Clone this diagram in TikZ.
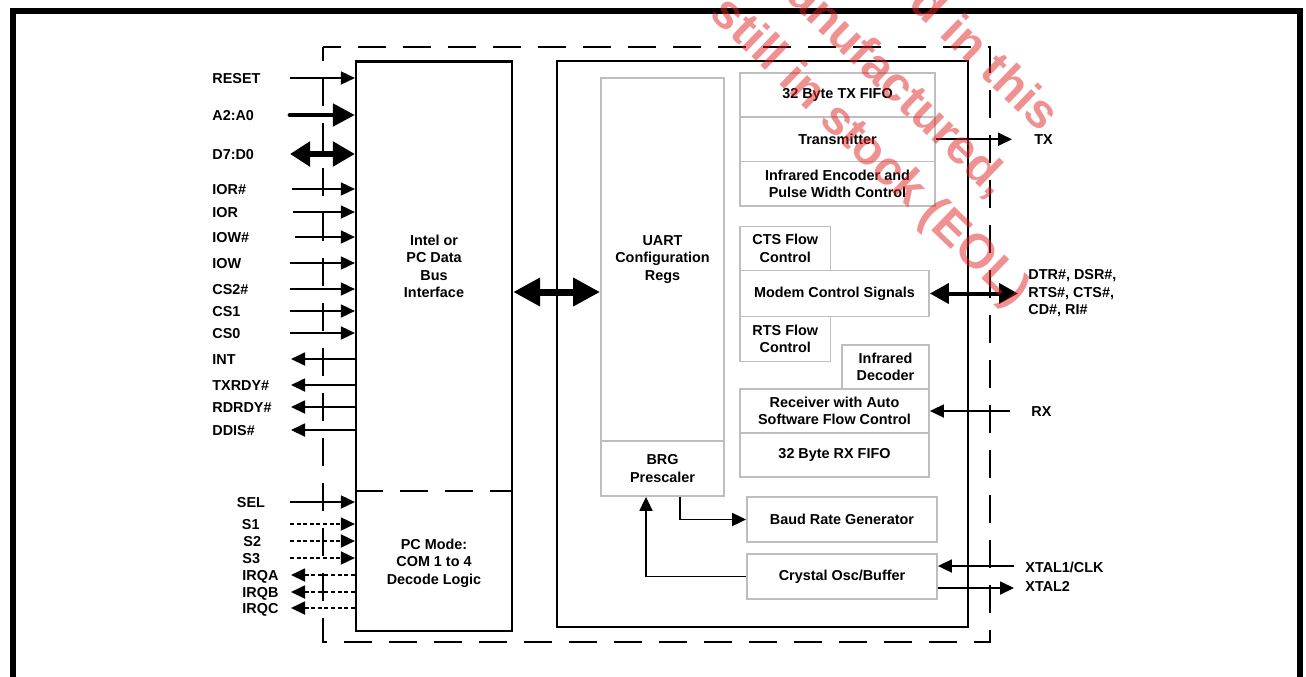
\documentclass[tikz,border=0pt]{standalone}
\usepackage{fontspec}
\newfontfamily\arialfont{Liberation Sans}
\usetikzlibrary{arrows.meta}

\definecolor{boxgray}{RGB}{190,190,190}
\definecolor{wmred}{RGB}{225,35,35}
\newcommand{\sigfont}{\arialfont\bfseries\fontsize{7.2}{8.75}\selectfont}

\begin{document}
\begin{tikzpicture}[x=0.5pt, y=-0.5pt,
  lbl/.style={font=\sigfont, inner sep=0pt, align=center},
  sig/.style={font=\sigfont, inner sep=0pt, anchor=west, text height=5.2pt, text depth=0pt},
  gbox/.style={draw=boxgray, line width=0.9pt, inner sep=0pt, align=center, font=\sigfont},
  kbox/.style={draw, line width=1.1pt, inner sep=0pt},
  chipline/.style={line width=0.75pt, dash pattern=on 14pt off 8.5pt},
  sigarr/.style={-{Triangle[length=7pt,width=6.5pt]}, line width=0.9pt},
  sigout/.style={{Triangle[length=7pt,width=6.5pt]}-, line width=0.9pt},
  dsigarr/.style={sigarr, dash pattern=on 2pt off 1.3pt},
  dsigout/.style={sigout, dash pattern=on 2pt off 1.3pt},
  busarr/.style={-{Triangle[length=11pt,width=11pt]}, line width=2.4pt, line cap=round},
  busdbl/.style={{Triangle[length=10pt,width=12pt]}-{Triangle[length=11pt,width=12pt]}, line width=2.6pt},
  bigarr/.style={{Triangle[length=13.5pt,width=13.5pt]}-{Triangle[length=13.5pt,width=13.5pt]}, line width=3.5pt},
  modarr/.style={{Triangle[length=9.5pt,width=10pt]}-{Triangle[length=9.5pt,width=10pt]}, line width=2pt},
  wm/.style={font=\arialfont\bfseries\fontsize{24}{29}\selectfont, text=wmred, opacity=0.5, rotate=-44, inner sep=0pt}]

  % parameters (pixel grid, y downwards)
  \def\sx{290}    % start of left signal arrows
  \def\lx{212}    % left signal labels
  \def\px{242}    % PC mode signal labels

  \useasboundingbox (0,0) rectangle (1306,676);

  % 1. outer frame (open at the bottom)
  \begin{scope}
    \clip (0,0) rectangle (1306,676);
    \draw[line width=3pt] (13,690) -- (13,11) -- (1300,11) -- (1300,690);
  \end{scope}

  % 2. chip boundary
  \draw[chipline, dash phase=7pt] (323,47) rectangle (990,642);

  % 3. bus interface block
  \node[kbox, minimum width=78pt, minimum height=284.75pt] (bus) at (434,346.25) {};
  \draw[chipline] (bus.west |- 0,491) -- (bus.east |- 0,491);
  \node[lbl] (busTxt) at (434,266.5) {Intel or\\PC Data\\Bus\\Interface};
  \node[lbl] (pcTxt) at (434,563) {PC Mode:\\COM 1 to 4\\Decode Logic};

  % 4. UART block
  \node[kbox, minimum width=205.5pt, minimum height=283pt] (uart) at (762.5,344) {};
  \node[gbox, minimum width=61.5pt, minimum height=181.5pt] (cfg) at (662.5,259.5) {UART\\Configuration\\Regs};
  \node[gbox, minimum width=61.5pt, minimum height=27.5pt] (brg) at (662.5,468.5) {BRG\\Prescaler};
  \node[gbox, minimum width=97.5pt, minimum height=22pt] (txfifo) at (837.5,95) {32 Byte TX FIFO};
  \node[gbox, minimum width=97.5pt, minimum height=22.25pt] (tx) at (837.5,139.25) {Transmitter};
  \node[gbox, minimum width=97.5pt, minimum height=22.25pt] (irenc) at (837.5,183.75) {Infrared Encoder and\\Pulse Width Control};
  \node[gbox, minimum width=45.25pt, minimum height=22pt] (cts) at (785.25,248.5) {CTS Flow\\Control};
  \node[gbox, minimum width=94.5pt, minimum height=23pt] (modem) at (834.5,293.5) {Modem Control Signals};
  \node[gbox, minimum width=45.25pt, minimum height=22.5pt] (rts) at (785.25,339) {RTS Flow\\Control};
  \node[gbox, minimum width=43.5pt, minimum height=22pt] (irdec) at (885.5,367) {Infrared\\Decoder};
  \node[gbox, minimum width=94.5pt, minimum height=22pt] (rcv) at (834.5,411) {Receiver with Auto\\Software Flow Control};
  \node[gbox, minimum width=94.5pt, minimum height=22pt] (rxfifo) at (834.5,455) {32 Byte RX FIFO};
  \node[gbox, minimum width=95pt, minimum height=22.5pt] (baud) at (842,519.5) {Baud Rate Generator};
  \node[gbox, minimum width=95pt, minimum height=22.5pt] (xtal) at (842,576.5) {Crystal Osc/Buffer};

  % 5. internal connections
  \draw[bigarr] (bus.east |- 0,292) -- (cfg.west |- 0,292);
  \draw[sigarr] (680,0 |- brg.south) |- (baud.west);
  \draw[sigarr] (xtal.west) -| (646,0 |- brg.south);

  % 6. host side signals
  \node[sig] (rstL) at (\lx,78) {RESET};
  \draw[sigarr] (\sx,78) coordinate (rst) -- (rst -| bus.west);
  \node[sig] (adrL) at (\lx,115) {A2:A0};
  \draw[busarr] (\sx,115) coordinate (adr) -- (adr -| bus.west);
  \node[sig] (datL) at (\lx,154) {D7:D0};
  \draw[busdbl] (\sx,154) coordinate (dat) -- (dat -| bus.west);
  \node[sig] (iorbL) at (\lx,189) {IOR\#};
  \draw[sigarr] (292,189) coordinate (iorb) -- (iorb -| bus.west);
  \node[sig] (iorL) at (\lx,212) {IOR};
  \draw[sigarr] (293,212) coordinate (ior) -- (ior -| bus.west);
  \node[sig] (iowbL) at (\lx,237) {IOW\#};
  \draw[sigarr] (295,237) coordinate (iowb) -- (iowb -| bus.west);
  \node[sig] (iowL) at (\lx,263) {IOW};
  \draw[sigarr] (\sx,263) coordinate (iow) -- (iow -| bus.west);
  \node[sig] (cstwoL) at (\lx,289) {CS2\#};
  \draw[sigarr] (\sx,289) coordinate (cstwo) -- (cstwo -| bus.west);
  \node[sig] (csoneL) at (\lx,311) {CS1};
  \draw[sigarr] (\sx,311) coordinate (csone) -- (csone -| bus.west);
  \node[sig] (cszeroL) at (\lx,333) {CS0};
  \draw[sigarr] (\sx,333) coordinate (cszero) -- (cszero -| bus.west);
  \node[sig] (intL) at (\lx,359) {INT};
  \draw[sigout] (291,359) coordinate (int) -- (int -| bus.west);
  \node[sig] (txrdyL) at (\lx,385) {TXRDY\#};
  \draw[sigout] (291,385) coordinate (txrdy) -- (txrdy -| bus.west);
  \node[sig] (rxrdyL) at (\lx,407) {RDRDY\#};
  \draw[sigout] (291,407) coordinate (rxrdy) -- (rxrdy -| bus.west);
  \node[sig] (ddisL) at (\lx,430) {DDIS\#};
  \draw[sigout] (291,430) coordinate (ddis) -- (ddis -| bus.west);

  % 7. PC mode signals
  \node[sig] (selL) at (236.5,502) {SEL};
  \draw[sigarr] (\sx,502) coordinate (sel) -- (sel -| bus.west);
  \node[sig] (soneL) at (241.5,524) {S1};
  \draw[dsigarr] (\sx,524) coordinate (sone) -- (sone -| bus.west);
  \node[sig] (stwoL) at (243,541) {S2};
  \draw[dsigarr] (\sx,541) coordinate (stwo) -- (stwo -| bus.west);
  \node[sig] (sthreeL) at (\px,558) {S3};
  \draw[dsigarr] (\sx,558) coordinate (sthree) -- (sthree -| bus.west);
  \node[sig] (irqaL) at (\px,575) {IRQA};
  \draw[dsigout] (291,575) coordinate (irqa) -- (irqa -| bus.west);
  \node[sig] (irqbL) at (\px,592) {IRQB};
  \draw[dsigout] (291,592) coordinate (irqb) -- (irqb -| bus.west);
  \node[sig] (irqcL) at (\px,608) {IRQC};
  \draw[dsigout] (291,608) coordinate (irqc) -- (irqc -| bus.west);

  % 8. serial side signals
  \draw[sigarr] (tx.east) -- (1012,139.25) coordinate (txo);
  \node[sig] (txL) at (1034,139.25) {TX};
  \draw[modarr] (modem.east) -- (1018,293.5) coordinate (mdo);
  \node[lbl, align=left, anchor=west] (mdL) at (1028,293.5) {DTR\#, DSR\#,\\RTS\#, CTS\#,\\CD\#, RI\#};
  \draw[sigarr] (1010,411) coordinate (rxi) -- (rcv.east);
  \node[sig] (rxL) at (1031,411) {RX};
  \draw[sigarr] (1014,566) coordinate (xonei) -- (xonei -| xtal.east);
  \node[sig] (xoneL) at (1025,567) {XTAL1/CLK};
  \draw[sigarr] (xtal.east |- 0,588) -- (1014,588) coordinate (xtwoo);
  \node[sig] (xtwoL) at (1025,586) {XTAL2};

  % 9. watermark
  \begin{scope}
    \clip (0,0) rectangle (1306,676);
    \node[wm] (wmA) at (986,57) {d in this};
    \node[wm] (wmB) at (883,74) {manufactured,};
    \node[wm] (wmC) at (869,153) {still in stock (EOL)};
  \end{scope}

\end{tikzpicture}
\end{document}
